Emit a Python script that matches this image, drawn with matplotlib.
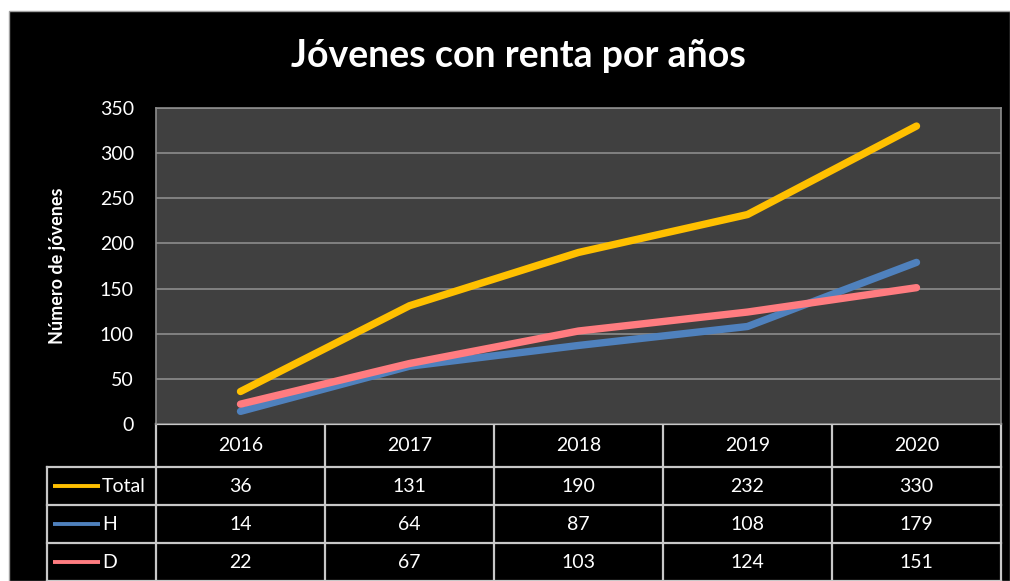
import matplotlib.pyplot as plt
from matplotlib.patches import Rectangle

years = ['2016', '2017', '2018', '2019', '2020']
total = [36, 131, 190, 232, 330]
hombres = [14, 64, 87, 108, 179]
mujeres = [22, 67, 103, 124, 151]
series_names = ['Total', 'H', 'D']
series_colors = ['#FFC000', '#4F81BD', '#FF7C80']
yticks = [0, 50, 100, 150, 200, 250, 300, 350]

W, H = 1010, 581
plt.rcParams['font.family'] = ['Lato', 'DejaVu Sans']

fig = plt.figure(figsize=(W / 100, H / 100), dpi=100)
fig.patch.set_facecolor('white')

# capa de fondo en coordenadas de pixel
bg = fig.add_axes([0, 0, 1, 1], zorder=0)
bg.set_xlim(0, W)
bg.set_ylim(H, 0)
bg.axis('off')
bg.add_patch(Rectangle((9, 11), W - 9, H - 11, facecolor='black', edgecolor='#a0a0a0', lw=1))

# area del grafico
px0, px1, py0, py1 = 156, 1001, 108, 424
ax = fig.add_axes([px0 / W, (H - py1) / H, (px1 - px0) / W, (py1 - py0) / H], zorder=1)
ax.set_facecolor('#404040')
ax.set_xlim(-0.5, len(years) - 0.5)
ax.set_ylim(0, 350)
ax.set_yticks(yticks)
ax.set_yticklabels([str(v) for v in yticks], color='white', fontsize=14)
ax.tick_params(axis='y', length=0, pad=16)
ax.set_xticks([])
ax.grid(axis='y', color='#8c8c8c', lw=1.2)
for s in ax.spines.values():
    s.set_color('#8c8c8c')
    s.set_linewidth(1.2)
ax.spines['bottom'].set_visible(False)

x = list(range(len(years)))
for vals, c in zip([total, hombres, mujeres], series_colors):
    ax.plot(x, vals, color=c, lw=5.3, solid_capstyle='round', solid_joinstyle='round', zorder=3)

ax.set_ylabel('Número de jóvenes', color='white', fontsize=13, fontweight='bold', labelpad=24)

fig.text(518 / W, 1 - 56 / H, 'Jóvenes con renta por años', ha='center', va='center',
         color='white', fontsize=27, fontweight='bold')

# tabla de datos
colw = (px1 - px0) / len(years)
row_y = [424, 467, 505, 543, 581]
lc = '#c8c8c8'
lw = 1.6
# cabecera
bg.plot([px0, px1], [row_y[0], row_y[0]], color=lc, lw=lw, zorder=2)
for i in range(len(years) + 1):
    xx = px0 + i * colw
    bg.plot([xx, xx], [row_y[0], row_y[-1]], color=lc, lw=lw)
for j in range(1, len(row_y)):
    bg.plot([47, px1], [row_y[j], row_y[j]], color=lc, lw=lw)
bg.plot([47, 47], [row_y[1], row_y[-1]], color=lc, lw=lw)

for i, yr in enumerate(years):
    cx = px0 + (i + 0.5) * colw
    bg.text(cx, (row_y[0] + row_y[1]) / 2, yr, ha='center', va='center', color='white', fontsize=14)

for j, (name, vals, c) in enumerate(zip(series_names, [total, hombres, mujeres], series_colors)):
    cy = (row_y[j + 1] + row_y[j + 2]) / 2
    bg.plot([53, 100], [cy, cy], color=c, lw=2.8, solid_capstyle='butt')
    bg.text(102, cy, name, ha='left', va='center', color='white', fontsize=14)
    for i, v in enumerate(vals):
        cx = px0 + (i + 0.5) * colw
        bg.text(cx, cy, str(v), ha='center', va='center', color='white', fontsize=14)

fig.savefig('out.png', dpi=100, facecolor='white')
